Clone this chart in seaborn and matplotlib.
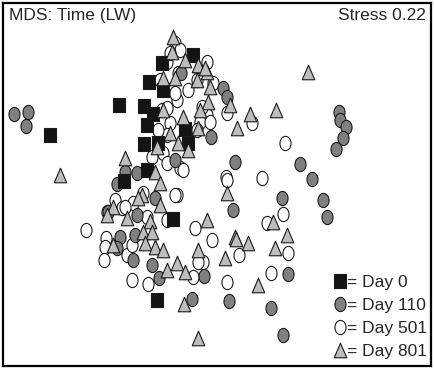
import numpy as np
import pandas as pd
import matplotlib
matplotlib.use("Agg")
import matplotlib.pyplot as plt
from matplotlib.path import Path
from matplotlib.lines import Line2D
import seaborn as sns

# MDS ordination scores (x to the right, y downward)
day0_x = [193, 162, 149, 163, 119, 144, 153, 147, 185, 50, 144, 158, 188, 147, 124, 173, 157]
day0_y = [55, 63, 82, 90, 105, 106, 114, 125, 129, 135, 144, 143, 143, 170, 181, 219, 300]

day110_x = [14, 28, 26, 339, 340, 346, 343, 336, 181, 223, 227, 211, 235, 300, 312, 282, 323,
            327, 233, 288, 229, 271, 283, 175, 137, 125, 117, 155, 137, 108, 120, 117, 133,
            135, 152, 159, 204, 192]
day110_y = [114, 112, 126, 112, 120, 127, 138, 149, 73, 88, 97, 137, 162, 164, 179, 198, 200,
            217, 210, 274, 301, 308, 335, 160, 173, 172, 184, 198, 215, 212, 237, 248, 260,
            235, 265, 278, 276, 299]

day501_x = [167, 175, 180, 207, 200, 197, 188, 177, 175, 162, 170, 207, 200, 227, 167, 197,
            178, 158, 170, 160, 167, 213, 163, 180, 152, 202, 210, 252, 285, 226, 262, 167,
            183, 177, 227, 115, 122, 107, 133, 195, 212, 106, 86, 105, 104, 127, 143, 175,
            125, 147, 167, 132, 148, 193, 203, 132, 198, 227, 239, 271, 288, 283, 267]
day501_y = [62, 43, 50, 62, 73, 80, 90, 100, 93, 110, 123, 115, 122, 113, 135, 130,
            73, 130, 53, 80, 108, 83, 153, 168, 157, 107, 122, 123, 143, 177, 178, 163,
            170, 195, 180, 200, 208, 212, 203, 228, 240, 238, 230, 247, 260, 255, 193, 195,
            207, 217, 220, 280, 284, 277, 262, 245, 262, 282, 255, 273, 253, 214, 223]

day801_x = [173, 172, 185, 198, 207, 197, 175, 163, 210, 208, 200, 183, 198, 163, 170, 157,
            178, 188, 125, 60, 155, 205, 308, 276, 250, 230, 237, 160, 227, 142, 113, 107,
            160, 127, 150, 207, 143, 152, 235, 138, 145, 155, 163, 198, 177, 167, 185, 184,
            198, 113, 225, 236, 248, 275, 287, 258, 273]
day801_y = [37, 52, 60, 65, 72, 80, 78, 78, 87, 102, 110, 117, 128, 110, 133, 147,
            143, 150, 158, 175, 172, 68, 72, 110, 114, 105, 128, 183, 193, 195, 207, 215,
            205, 218, 221, 220, 232, 232, 237, 198, 243, 247, 250, 250, 263, 270, 272, 304,
            338, 245, 258, 239, 243, 248, 235, 285, 222]

groups = ["Day 0", "Day 110", "Day 501", "Day 801"]
legend_labels = ["= Day 0", "= Day 110", "= Day 501", "= Day 801"]
title = "MDS: Time (LW)"
stress_text = "Stress 0.22"

# markers slightly taller than wide, as in the original
ellipse = Path.unit_circle().transformed(matplotlib.transforms.Affine2D().scale(0.78, 1.0))
rect = Path([(-0.4, -0.5), (0.4, -0.5), (0.4, 0.5), (-0.4, 0.5), (-0.4, -0.5)],
            [Path.MOVETO, Path.LINETO, Path.LINETO, Path.LINETO, Path.CLOSEPOLY])
tri = Path([(0, 0.5), (-0.43, -0.5), (0.43, -0.5), (0, 0.5)],
           [Path.MOVETO, Path.LINETO, Path.LINETO, Path.CLOSEPOLY])

markers = {"Day 0": rect, "Day 110": ellipse, "Day 501": ellipse, "Day 801": tri}
colors = {"Day 0": "#141414", "Day 110": "#808080", "Day 501": "#ffffff", "Day 801": "#bdbdbd"}
sizes = {"Day 0": 115, "Day 110": 105, "Day 501": 105, "Day 801": 110}

df = pd.concat([
    pd.DataFrame({"x": day0_x, "y": day0_y, "day": "Day 0"}),
    pd.DataFrame({"x": day110_x, "y": day110_y, "day": "Day 110"}),
    pd.DataFrame({"x": day501_x, "y": day501_y, "day": "Day 501"}),
    pd.DataFrame({"x": day801_x, "y": day801_y, "day": "Day 801"}),
])

sns.set_style("white")
plt.rcParams["font.family"] = ["Liberation Sans", "DejaVu Sans"]

fig = plt.figure(figsize=(4.35, 3.71), dpi=100)
ax = fig.add_axes([3 / 435, 5 / 371, 428 / 435, 363 / 371])

# drawing order: open circles, grey circles, squares, triangles
for g in ["Day 501", "Day 110", "Day 0", "Day 801"]:
    sub = df[df["day"] == g]
    sns.scatterplot(data=sub, x="x", y="y", ax=ax, marker=markers[g], s=sizes[g],
                    color=colors[g], edgecolor="#1a1a1a", linewidth=0.8, legend=False)

ax.set_xlim(3, 431)
ax.set_ylim(366, 3)
ax.set_xticks([])
ax.set_yticks([])
ax.set_xlabel("")
ax.set_ylabel("")
for sp in ax.spines.values():
    sp.set_linewidth(1.6)
    sp.set_color("black")

ax.text(0.014, 0.985, title, transform=ax.transAxes, ha="left", va="top", fontsize=12.5)
ax.text(0.988, 0.985, stress_text, transform=ax.transAxes, ha="right", va="top", fontsize=12.5)

handles = [Line2D([], [], linestyle="", marker=markers[g], markersize=np.sqrt(sizes[g]),
                  markerfacecolor=colors[g], markeredgecolor="#1a1a1a", markeredgewidth=0.8)
           for g in groups]
ax.legend(handles, legend_labels, loc="lower right", bbox_to_anchor=(1.02, -0.014),
          frameon=False, fontsize=12.5, handlelength=0.8, handletextpad=0.0,
          labelspacing=0.45, borderaxespad=0.3)

fig.savefig("out.png", dpi=100)
